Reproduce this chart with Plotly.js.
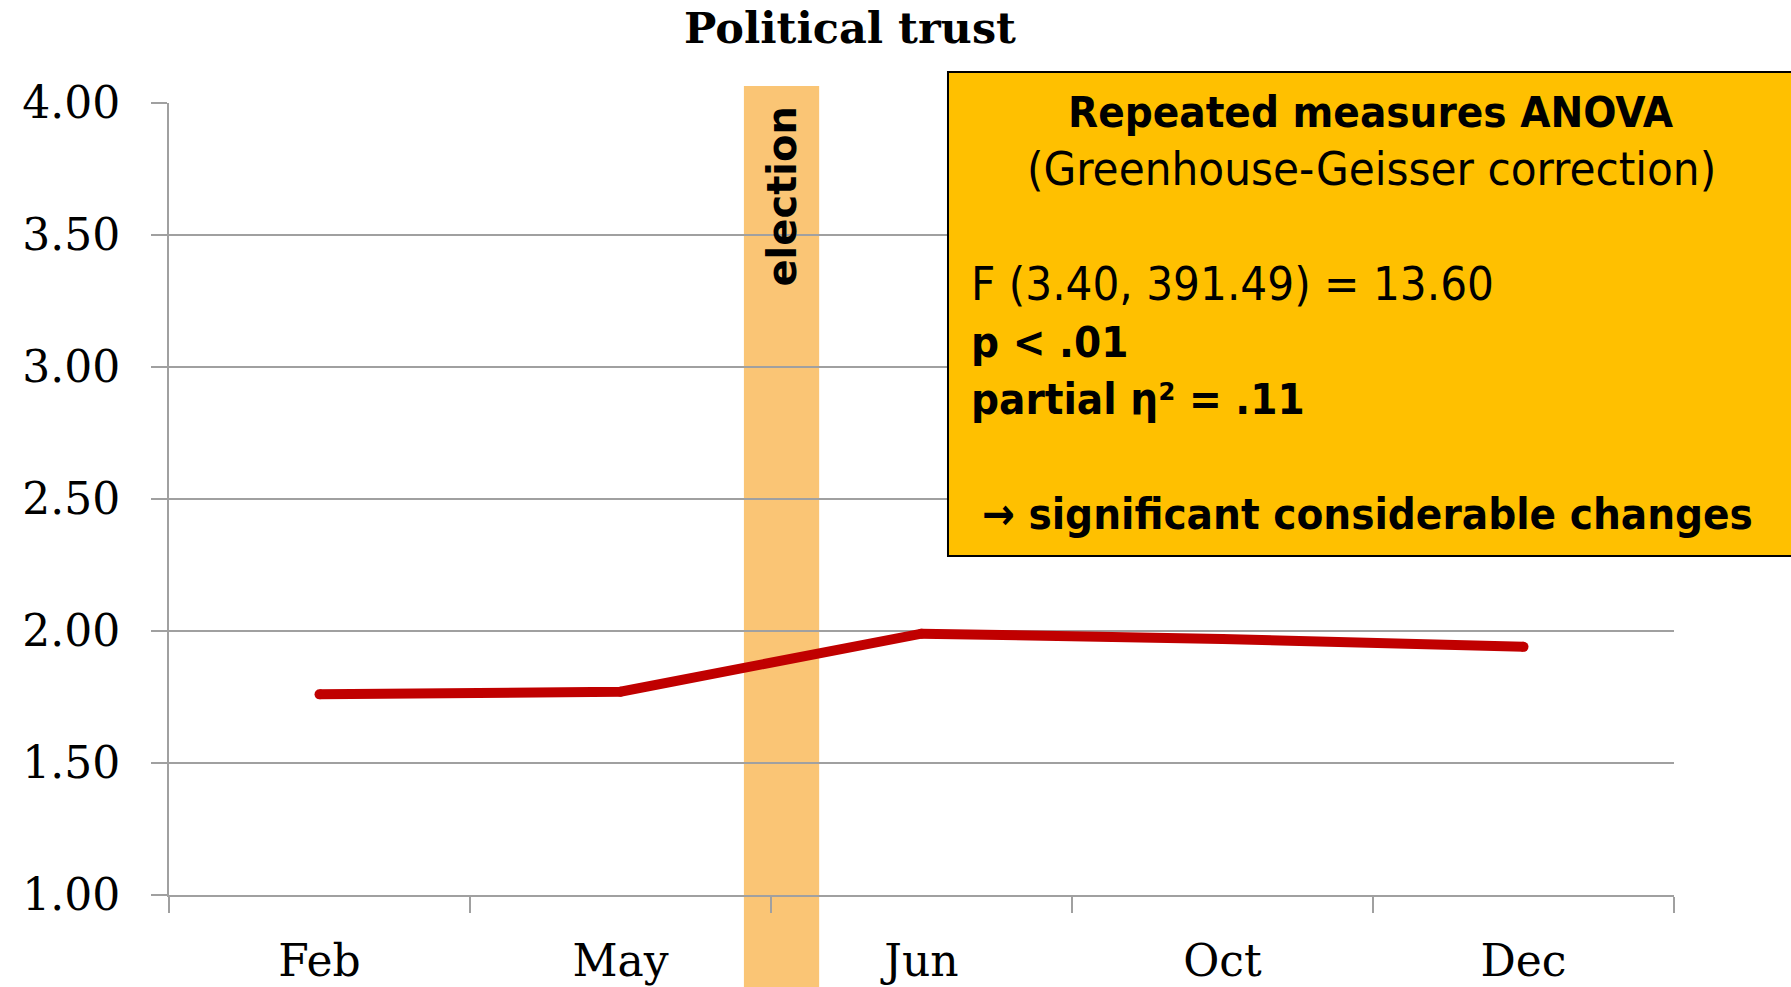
<!DOCTYPE html>
<html>
<head>
<meta charset="utf-8">
<script src="https://cdn.plot.ly/plotly-3.0.1.min.js"></script>
<style>html,body{margin:0;padding:0;background:#fff;}#chart{width:1791px;height:987px;}</style>
</head>
<body>
<div id="chart"></div>
<script>
const months = ["Feb", "May", "Jun", "Oct", "Dec"];
const trust = [1.76, 1.77, 1.99, 1.97, 1.94];
const yTicks = [1.0, 1.5, 2.0, 2.5, 3.0, 3.5, 4.0];
const electionSpan = [1.41, 1.66];
const chartTitle = "Political trust";
const boxLines = [
  "<b>Repeated measures ANOVA</b>",
  "(Greenhouse-Geisser correction)",
  "F (3.40, 391.49) = 13.60",
  "<b>p &lt; .01</b>",
  "<b>partial η² = .11</b>",
  "<b>→ significant considerable changes</b>"
];

const serif = "DejaVu Serif, serif";
const sans = "DejaVu Sans Condensed, DejaVu Sans, sans-serif";
const grid = "#A0A0A0";

const trace = {
  x: months, y: trust, type: "scatter", mode: "lines+markers",
  line: {color: "#C00000", width: 10},
  marker: {color: "#C00000", size: 10, line: {width: 0}},
  hoverinfo: "skip"
};

const regFont = {family: sans, size: 47, color: "#000"};
const boldFont = {family: sans, size: 43.5, color: "#000"};
const layout = {
  width: 1791, height: 987,
  margin: {l: 169, r: 117, t: 103, b: 92, pad: 0},
  paper_bgcolor: "#fff", plot_bgcolor: "rgba(0,0,0,0)",
  showlegend: false,
  title: {text: "<b>" + chartTitle + "</b>", font: {family: serif, size: 43, color: "#000"},
          x: (850) / 1791, xanchor: "center", y: 1 - 28 / 987, yanchor: "middle"},
  xaxis: {
    type: "category", range: [-0.5, 4.5], tickson: "boundaries",
    showgrid: false, showline: true, linecolor: grid, linewidth: 2,
    ticks: "outside", ticklen: 16, tickcolor: grid, tickwidth: 2,
    tickfont: {family: serif, size: 44, color: "#000"}, ticklabelstandoff: 26,
    zeroline: false, fixedrange: true
  },
  yaxis: {
    range: [1, 4], tickvals: yTicks, tickformat: ".2f",
    showgrid: true, gridcolor: grid, gridwidth: 2,
    showline: true, linecolor: grid, linewidth: 2,
    ticks: "outside", ticklen: 16, tickcolor: grid, tickwidth: 2,
    tickfont: {family: serif, size: 44, color: "#000"}, ticklabelstandoff: 22,
    zeroline: false, fixedrange: true
  },
  shapes: [
    {type: "rect", xref: "x", yref: "paper", x0: electionSpan[0], x1: electionSpan[1],
     y0: -0.12, y1: 1.0215, fillcolor: "#FAC575", line: {width: 0}, layer: "below"},
    {type: "rect", xref: "paper", yref: "paper", x0: 0.5176, x1: 1.2, y0: 0.428, y1: 1.039,
     fillcolor: "#FFC000", line: {color: "#000", width: 2}, layer: "above"}
  ],
  annotations: [
    {text: "<b>election</b>", xref: "x", yref: "paper", x: (electionSpan[0] + electionSpan[1]) / 2,
     y: 0.8813, textangle: -90, showarrow: false, xanchor: "center", yanchor: "middle",
     font: {family: "DejaVu Sans, sans-serif", size: 40, color: "#000"}},
    {text: boxLines[0], xref: "paper", yref: "paper", x: 0.7987, y: 0.9886, xanchor: "center", yanchor: "middle", showarrow: false, font: boldFont},
    {text: boxLines[1], xref: "paper", yref: "paper", x: 0.7993, y: 0.9167, xanchor: "center", yanchor: "middle", showarrow: false, font: regFont},
    {text: boxLines[2], xref: "paper", yref: "paper", x: 0.5316, y: 0.7715, xanchor: "left", yanchor: "middle", showarrow: false, font: regFont},
    {text: boxLines[3], xref: "paper", yref: "paper", x: 0.5316, y: 0.6982, xanchor: "left", yanchor: "middle", showarrow: false, font: boldFont},
    {text: boxLines[4], xref: "paper", yref: "paper", x: 0.5316, y: 0.6263, xanchor: "left", yanchor: "middle", showarrow: false, font: boldFont},
    {text: boxLines[5], xref: "paper", yref: "paper", x: 0.5389, y: 0.4811, xanchor: "left", yanchor: "middle", showarrow: false, font: boldFont}
  ]
};

Plotly.newPlot("chart", [trace], layout, {staticPlot: true, displayModeBar: false});
</script>
</body>
</html>
